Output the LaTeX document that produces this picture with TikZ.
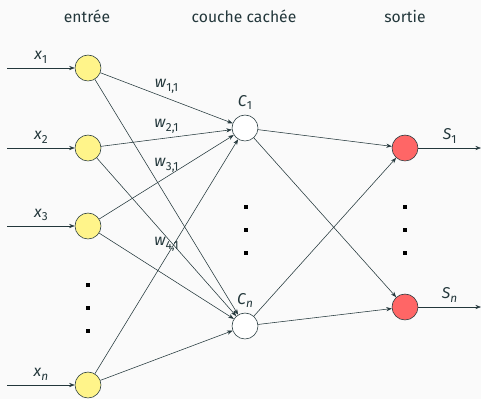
\documentclass[tikz,border=0pt]{standalone}
\usepackage{fontspec}
\setmainfont{Fira Sans}
\usetikzlibrary{arrows.meta}
\definecolor{fondgris}{HTML}{FAFAFA}
\definecolor{texte}{HTML}{23373B}
\definecolor{jaune}{HTML}{FFF48A}
\definecolor{rouge}{HTML}{FF6666}
\newcommand{\lbl}[2]{\textit{#1}\raisebox{-0.45ex}{\fontsize{8.5}{9}\selectfont #2}}

\begin{document}
\begin{tikzpicture}[x=0.72pt, y=-0.72pt, font=\fontsize{11.3}{13}\selectfont, text=texte]
            \tikzstyle{entree}=[circle,draw=texte,fill=jaune,minimum size=18.7pt,inner sep=0pt]
            \tikzstyle{cachee}=[circle,draw=texte,fill=white,minimum size=18.7pt,inner sep=0pt]
            \tikzstyle{sortie}=[circle,draw=texte,fill=rouge,minimum size=18.7pt,inner sep=0pt]
            \tikzstyle{point}=[rectangle,fill=black,minimum size=3pt,inner sep=0pt]
            \tikzstyle{fleche}=[draw=texte,-{Stealth[length=4pt,width=3pt]}]

            \fill[fondgris] (0,0) rectangle (481,399);
            \useasboundingbox (0,0) rectangle (481,399);

            \node (T_1) at (87,16) {entrée};
            \node (T_2) at (244,16) {couche cachée};
            \node (T_3) at (405,16) {sortie};

            \node[entree] (E_1) at (88,68) {};
            \node[entree] (E_2) at (88,148) {};
            \node[entree] (E_3) at (88,226) {};
            \node[entree] (E_4) at (88,385) {};

            \node[cachee] (C_1) at (245,128) {};
            \node[cachee] (C_2) at (245,326) {};

            \node[sortie] (S_1) at (405,148) {};
            \node[sortie] (S_2) at (405,307) {};

            \node at (C_1.north) [above] {\lbl{C}{1}};
            \node at (C_2.north) [above] {\lbl{C}{\textit{n}}};

            \coordinate (A_1) at (7,68);
            \coordinate (A_2) at (7,148);
            \coordinate (A_3) at (7,226);
            \coordinate (A_4) at (7,385);
            \coordinate (B_1) at (481,148);
            \coordinate (B_2) at (481,307);

            \draw[fleche] (A_1) -- (E_1) node[midway,above] {\lbl{x}{1}};
            \draw[fleche] (A_2) -- (E_2) node[midway,above] {\lbl{x}{2}};
            \draw[fleche] (A_3) -- (E_3) node[midway,above] {\lbl{x}{3}};
            \draw[fleche] (A_4) -- (E_4) node[midway,above] {\lbl{x}{\textit{n}}};

            \draw[fleche] (E_1) -- (C_1) node[midway,above] {\lbl{w}{1,1}};
            \draw[fleche] (E_2) -- (C_1) node[midway,above] {\lbl{w}{2,1}};
            \draw[fleche] (E_3) -- (C_1) node[midway,above] {\lbl{w}{3,1}};
            \draw[fleche] (E_4) -- (C_1) node[midway,above] {\lbl{w}{4,1}};
            \foreach \i in {1,...,4} {
                \draw[fleche] (E_\i) -- (C_2);
            }
            \foreach \i in {1,2} {
                \foreach \j in {1,2} {
                    \draw[fleche] (C_\i) -- (S_\j);
                }
            }

            \draw[fleche] (S_1) -- (B_1) node[midway,above] {\lbl{S}{1}};
            \draw[fleche] (S_2) -- (B_2) node[midway,above] {\lbl{S}{\textit{n}}};

            \foreach \y [count=\k] in {285,308,331} {
                \node[point] (P_\k) at (88,\y) {};
            }
            \foreach \y [count=\k] in {207,230,253} {
                \node[point] (Q_\k) at (246,\y) {};
                \node[point] (R_\k) at (405,\y) {};
            }
        \end{tikzpicture}
\end{document}
